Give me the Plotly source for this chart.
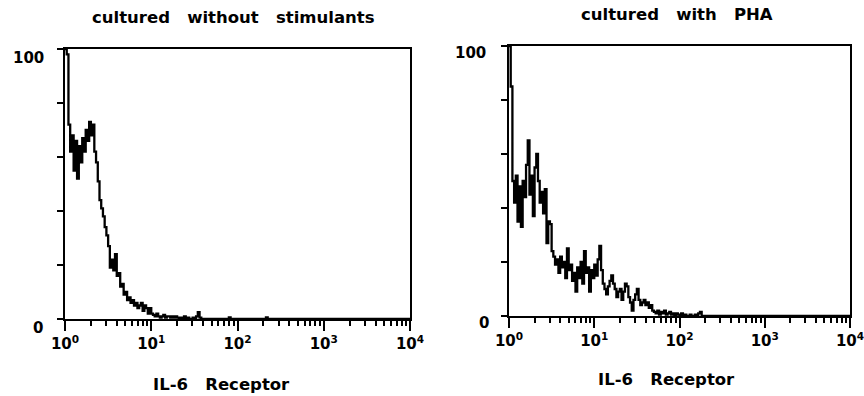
import plotly.graph_objects as go

# log10 fluorescence channel positions (decades) and counts
log_left = [i * 0.02 for i in range(0, 80)] + [1.60, 1.90, 1.92, 2.33, 2.35, 4.0]
counts_left = [100, 98, 72, 62, 68, 55, 66, 52, 64, 58,
               67, 62, 70, 66, 73, 68, 72, 62, 58, 51,
               44, 41, 38, 34, 31, 27, 19, 22, 18, 24,
               16, 17, 12, 13, 9, 10, 7, 8, 6, 7,
               5, 6, 4, 5, 6, 3, 5, 4, 2, 4,
               2, 1.5, 1, 2, 1, 0.5, 1, 1.5, 0.5, 1,
               1, 0.5, 1, 0.5, 1, 0.5, 0, 0.5, 0, 1,
               0, 0.5, 0, 0, 0.5, 0, 1, 2.5, 0.5, 0,
               0, 0.6, 0, 0.6, 0, 0]

log_right = [i * 0.02 for i in range(0, 114)] + [2.28, 4.0]
counts_right = [100, 85, 50, 42, 52, 35, 48, 33, 50, 44,
                56, 65, 45, 52, 37, 55, 60, 50, 42, 46,
                38, 47, 27, 35, 34, 24, 22, 19, 21, 16,
                22, 18, 20, 14, 25, 17, 19, 13, 16, 9,
                18, 14, 20, 12, 24, 16, 18, 9, 17, 14,
                19, 15, 21, 26, 17, 12, 10, 8, 11, 13,
                15, 12, 10, 7, 9, 10, 6, 9, 12, 11,
                7, 5, 2, 6, 8, 10, 6, 4, 5, 6,
                4, 5, 3, 4, 2, 1.5, 1, 2, 0.5, 1.5,
                1, 2, 0.5, 1, 1.5, 0.5, 1, 0, 1, 0.5,
                0, 1, 0, 0.5, 0, 0, 0.5, 0, 0, 0.5,
                0, 1, 1.5, 0, 0, 0]

titles = ["cultured\u00a0\u00a0\u00a0without\u00a0\u00a0\u00a0stimulants",
          "cultured\u00a0\u00a0\u00a0with\u00a0\u00a0\u00a0PHA"]
x_title = "IL-6\u00a0\u00a0\u00a0Receptor"
decade_vals = [1, 10, 100, 1000, 10000]
decade_text = ["<b>10<sup>0</sup></b>", "<b>10<sup>1</sup></b>", "<b>10<sup>2</sup></b>",
               "<b>10<sup>3</sup></b>", "<b>10<sup>4</sup></b>"]
y_ticks = [0, 20, 40, 60, 80, 100]

W, H = 864, 396
FONT = "DejaVu Sans"

minor_vals = [m * 10 ** d for d in range(4) for m in range(2, 10)]

fig = go.Figure()
fig.add_trace(go.Scatter(x=[10 ** v for v in log_left], y=counts_left, mode="lines",
                         line=dict(color="black", width=2.3, shape="hv"),
                         xaxis="x", yaxis="y", showlegend=False))
fig.add_trace(go.Scatter(x=[10 ** v for v in log_right], y=counts_right, mode="lines",
                         line=dict(color="black", width=2.3, shape="hv"),
                         xaxis="x2", yaxis="y2", showlegend=False))

def xax(dom, anchor):
    return dict(type="log", domain=dom, range=[0, 4], anchor=anchor,
                showline=True, mirror=True, linecolor="black", linewidth=2,
                showgrid=False, zeroline=False, automargin=False,
                ticklabeloverflow="allow",
                tickvals=decade_vals, ticktext=decade_text,
                ticks="outside", ticklen=10, tickwidth=2, tickcolor="black",
                tickfont=dict(family=FONT, size=15, color="black"),
                minor=dict(tickvals=minor_vals, ticks="outside", ticklen=5,
                           tickwidth=2, tickcolor="black", showgrid=False))

def yax(dom, anchor):
    return dict(domain=dom, range=[0, 100], anchor=anchor,
                showline=True, mirror=True, linecolor="black", linewidth=2,
                showgrid=False, zeroline=False, automargin=False,
                tickvals=y_ticks, showticklabels=False,
                ticks="outside", ticklen=6, tickwidth=2, tickcolor="black")

L = (65, 410, 49, 319)
R = (509, 850, 46, 316)

fig.update_layout(
    width=W, height=H, autosize=False, margin=dict(l=0, r=0, t=0, b=0),
    paper_bgcolor="white", plot_bgcolor="white",
    xaxis=xax([L[0] / W, L[1] / W], "y"),
    yaxis=yax([(H - L[3]) / H, (H - L[2]) / H], "x"),
    xaxis2=xax([R[0] / W, R[1] / W], "y2"),
    yaxis2=yax([(H - R[3]) / H, (H - R[2]) / H], "x2"),
)

ann_font = dict(family=FONT, size=16.5, color="black")
lab_font = dict(family=FONT, size=15, color="black")
anns = [
    dict(text="<b>" + titles[0] + "</b>", x=234 / W, y=(H - 18) / H),
    dict(text="<b>" + titles[1] + "</b>", x=677 / W, y=(H - 15) / H),
    dict(text="<b>" + x_title + "</b>", x=222 / W, y=(H - 384) / H),
    dict(text="<b>" + x_title + "</b>", x=666 / W, y=(H - 379) / H),
    dict(text="<b>100</b>", x=28 / W, y=(H - 58) / H, font=lab_font),
    dict(text="<b>0</b>", x=38 / W, y=(H - 328) / H, font=lab_font),
    dict(text="<b>100</b>", x=470 / W, y=(H - 53) / H, font=lab_font),
    dict(text="<b>0</b>", x=484 / W, y=(H - 323) / H, font=lab_font),
]
for a in anns:
    a.setdefault("font", ann_font)
    fig.add_annotation(xref="paper", yref="paper", showarrow=False,
                       xanchor="center", yanchor="middle", **a)

fig.write_html("out.html", config={"responsive": False, "displayModeBar": False},
               post_script="document.body.style.margin='0';document.body.style.overflow='hidden';")
